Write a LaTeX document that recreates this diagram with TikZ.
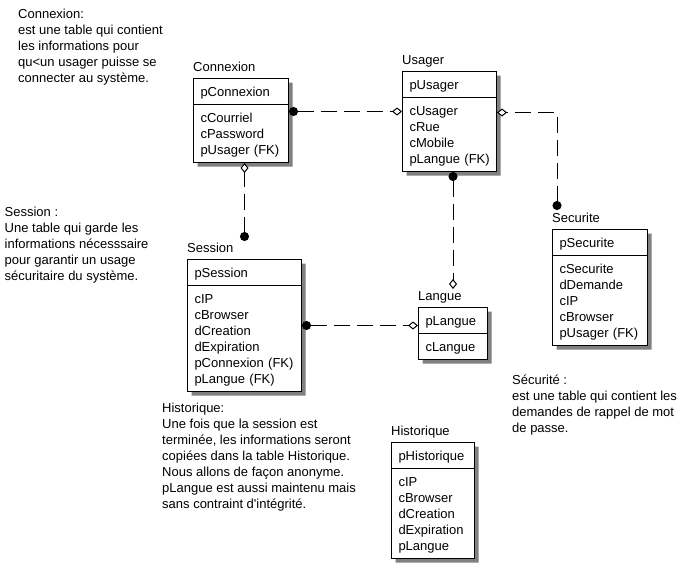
\documentclass[tikz,border=0pt]{standalone}
\usepackage{fontspec}
\setmainfont{Liberation Sans}
\usetikzlibrary{arrows.meta,positioning,shapes.multipart,shadows}

\newcommand{\rowstrut}{\rule[-3.5pt]{0pt}{16pt}}

\begin{document}
\begin{tikzpicture}[x=1pt,y=-1pt,
    entite/.style={rectangle split, rectangle split parts=2, draw, line width=1pt,
      fill=white, anchor=north west, align=left, inner xsep=7pt, inner ysep=4.5pt,
      font=\fontsize{13}{16}\selectfont,
      drop shadow={shadow xshift=4pt, shadow yshift=-4pt, fill=black!50, opacity=1}},
    titre/.style={inner sep=0pt, text depth=0pt, font=\fontsize{13}{16}\selectfont},
    note/.style={inner sep=0pt, anchor=north west, align=left, font=\fontsize{13}{16}\selectfont},
    lien/.style={line width=1pt, dash pattern=on 16pt off 7pt,
      {Circle[length=9pt]}-{Diamond[open,length=10pt,width=8pt,fill=white]}}]

  \fill[white] (0,0) rectangle (692,562);
  \useasboundingbox (0,0) rectangle (692,562);

  % tables
  \node[entite, text width=81pt] (connexion) at (193,78)
    {\rowstrut pConnexion \nodepart{two}\rowstrut cCourriel\\cPassword\\pUsager~(FK)\rowstrut};
  \node[entite, text width=80pt] (usager) at (402,71)
    {\rowstrut pUsager \nodepart{two}\rowstrut cUsager\\cRue\\cMobile\\pLangue~(FK)\rowstrut};
  \node[entite, text width=100pt] (session) at (187,259)
    {\rowstrut pSession \nodepart{two}\rowstrut cIP\\cBrowser\\dCreation\\dExpiration\\pConnexion~(FK)\\pLangue~(FK)\rowstrut};
  \node[entite, text width=55pt] (langue) at (418,307)
    {\rowstrut pLangue \nodepart{two}\rowstrut cLangue\rowstrut};
  \node[entite, text width=81pt] (securite) at (552,229)
    {\rowstrut pSecurite \nodepart{two}\rowstrut cSecurite\\dDemande\\cIP\\cBrowser\\pUsager~(FK)\rowstrut};
  \node[entite, text width=69pt] (historique) at (391,442)
    {\rowstrut pHistorique \nodepart{two}\rowstrut cIP\\cBrowser\\dCreation\\dExpiration\\pLangue\rowstrut};

  % table names
  \node[titre, above right=6pt and 0pt of connexion.north west] (tconnexion) {Connexion};
  \node[titre, above right=6pt and 0pt of usager.north west] (tusager) {Usager};
  \node[titre, above right=6pt and 0pt of session.north west] (tsession) {Session};
  \node[titre, above right=6pt and 0pt of langue.north west] (tlangue) {Langue};
  \node[titre, above right=6pt and 0pt of securite.north west] (tsecurite) {Securite};
  \node[titre, above right=6pt and 0pt of historique.north west] (thistorique) {Historique};

  % relations
  \draw[lien] ([yshift=9pt]connexion.east) -- ([yshift=9pt]connexion.east -| usager.west);
  \draw[lien] ([yshift=18pt]session.north) -- (session.north |- connexion.south);
  \draw[lien] (usager.south -| langue.north) -- ([yshift=18pt]langue.north);
  \draw[lien] (session.east) -- (session.east -| langue.west);
  \draw[lien] ([xshift=5pt,yshift=19pt]securite.north west) |- ([yshift=9pt]usager.east);

  % notes
  \node[note] (nconnexion) at (18,9.3)
    {Connexion:\\est une table qui contient\\les informations pour\\qu<un usager puisse se\\connecter au système.};
  \node[note] (nsession) at (4.5,207.3)
    {Session :\\Une table qui garde les\\informations nécesssaire\\pour garantir un usage\\sécuritaire du système.};
  \node[note] (nhistorique) at (162,403.3)
    {Historique:\\Une fois que la session est\\terminée, les informations seront\\copiées dans la table Historique.\\Nous allons de façon anonyme.\\pLangue est aussi maintenu mais\\sans contraint d\textquotesingle intégrité.};
  \node[note] (nsecurite) at (512,374.5)
    {Sécurité :\\est une table qui contient les\\demandes de rappel de mot\\de passe.};
\end{tikzpicture}
\end{document}
